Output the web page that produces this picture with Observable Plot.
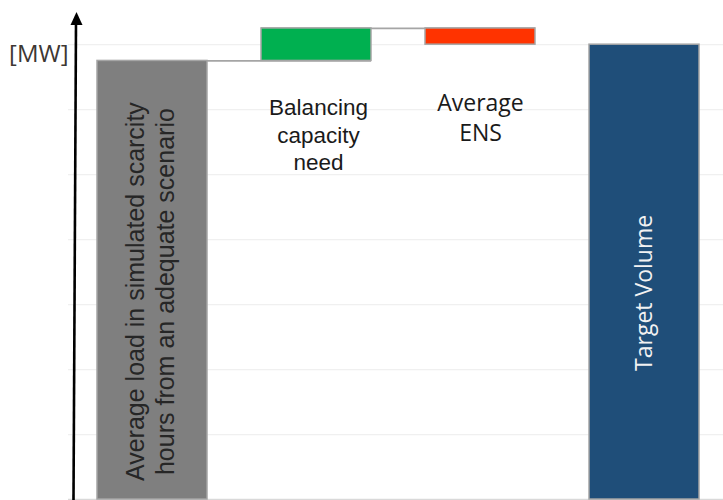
<!DOCTYPE html>
<html><head><meta charset="utf-8">
<script src="https://cdn.jsdelivr.net/npm/d3@7"></script>
<script src="https://cdn.jsdelivr.net/npm/@observablehq/plot@0.6"></script>
<style>body{margin:0;background:#fff}</style>
</head><body><div id="chart"></div>
<script>
const categories = ["Average load in simulated scarcity hours from an adequate scenario", "Balancing capacity need", "Average ENS", "Target Volume"];
const labels = ["Average load in simulated scarcity\nhours from an adequate scenario", "Balancing\ncapacity\nneed", "Average\nENS", "Target Volume"];
const barStart = [0, 675, 725, 0];
const barEnd = [675, 725, 700, 700];
const barColors = ["#7f7f7f", "#00b050", "#ff3300", "#1f4e79"];
const gridTicks = [100, 200, 300, 400, 500, 600, 700];
const unitLabel = "[MW]";

const bars = categories.map((c, i) => ({cat: c, label: labels[i], start: barStart[i], end: barEnd[i], color: barColors[i]}));
const links = [
  {x1: bars[0].cat, x2: bars[1].cat, y: bars[0].end},
  {x1: bars[1].cat, x2: bars[2].cat, y: bars[1].end}
];

const arrowAxis = (index, scales) => {
  const g = d3.create("svg:g");
  const yb = scales.y(0) + 1;
  g.append("line").attr("x1", 73.5).attr("y1", yb).attr("x2", 76).attr("y2", 22)
    .attr("stroke", "#000").attr("stroke-width", 2.6);
  g.append("path").attr("d", "M76.5,12 L70.5,25 L82.5,25 Z").attr("fill", "#000");
  return g.node();
};

const chart = Plot.plot({
  width: 723,
  height: 500,
  marginLeft: 0, marginRight: 0, marginTop: 0, marginBottom: 1,
  x: {type: "band", domain: categories, range: [96, 700], paddingInner: 0.331, paddingOuter: 0, axis: null},
  y: {domain: [0, 768], axis: null},
  style: {background: "white", overflow: "visible"},
  marks: [
    Plot.ruleY(gridTicks, {stroke: "#f0f0f0", strokeWidth: 1.2, insetLeft: 68}),
    Plot.ruleY([0], {stroke: "#d9d9d9", strokeWidth: 1.5, insetLeft: 68}),
    Plot.ruleY(links, {x1: "x1", x2: "x2", y: "y", stroke: "#a5a5a5", strokeWidth: 1.8}),
    Plot.ruleY([bars[2]], {x1: "cat", y: "end", stroke: "#a5a5a5", strokeWidth: 1.8}),
    Plot.rectY(bars, {x: "cat", y1: "start", y2: "end", fill: "color", stroke: "#a5a5a5", strokeWidth: 1.5}),
    Plot.text([bars[0]], {x: "cat", y: 320, dx: -3, text: "label", rotate: -90, lineAnchor: "middle", lineHeight: 1.2,
      fontSize: 25, fontFamily: "Liberation Sans", fill: "#262626"}),
    Plot.text([bars[1]], {x: "cat", y: 622, dx: 2, text: "label", lineAnchor: "top", lineHeight: 1.23,
      fontSize: 22.5, fontFamily: "Liberation Sans", fill: "#1a1a1a"}),
    Plot.text([bars[2]], {x: "cat", y: 631, text: "label", lineAnchor: "top", lineHeight: 1.3,
      fontSize: 23, fontFamily: "Open Sans", fill: "#1a1a1a"}),
    Plot.text([bars[3]], {x: "cat", y: 318, text: "label", rotate: -90, lineAnchor: "middle",
      fontSize: 23, fontFamily: "Open Sans", fill: "#f2f2f2"}),
    arrowAxis,
    Plot.text([unitLabel], {frameAnchor: "top-left", dx: 68, dy: 54, textAnchor: "end", lineAnchor: "middle",
      fontSize: 24, fontFamily: "Open Sans", fill: "#3d3733"})
  ]
});
document.getElementById("chart").appendChild(chart);
</script>
</body></html>
